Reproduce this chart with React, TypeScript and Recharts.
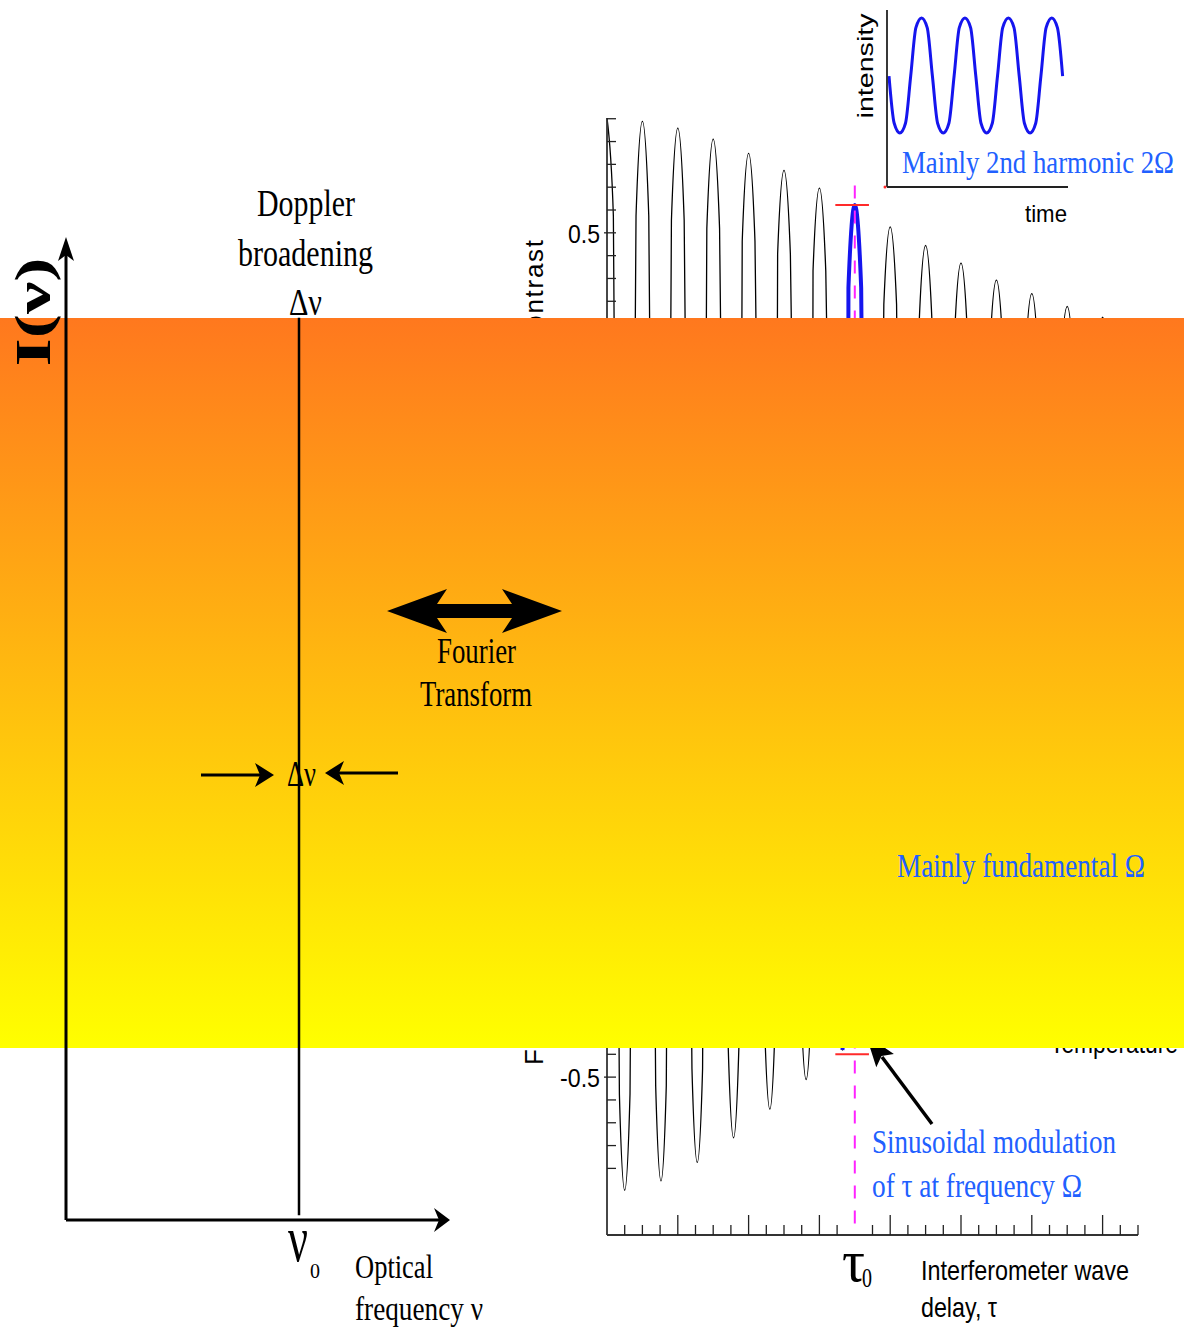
import React from 'react';
import { LineChart, Line, XAxis, YAxis, ReferenceLine } from 'recharts';

const W = 1184;
const H = 1331;
const SERIF = '"Liberation Serif", "Times New Roman", serif';
const SANS = '"Liberation Sans", Arial, sans-serif';
const BLUE_TEXT = '#2160ff';
const BLUE_LINE = '#1515ee';

// fringe contrast vs interferometer delay (delay in tick units, 0..30)
const peakDelay = [0, 2, 4, 6, 8, 10, 12, 14, 16, 18, 20, 22, 24, 26, 28, 30];
const peakContrast = [0.636, 0.632, 0.624, 0.611, 0.594, 0.574, 0.553, 0.533, 0.507, 0.485, 0.464, 0.444, 0.428, 0.413, 0.4, 0.388];
const peakShoulder = [0.52, 0.52, 0.515, 0.505, 0.49, 0.475, 0.455, 0.435, 0.415, 0.395, 0.38, 0.365, 0.35, 0.34, 0.33, 0.32];
const troughDelay = [1, 3.05, 5.1, 7.15, 9.2, 11.25, 13.3, 15, 17, 19, 21, 23, 25, 27, 29];
const troughContrast = [-0.634, -0.623, -0.601, -0.572, -0.538, -0.503, -0.468, -0.44, -0.415, -0.39, -0.37, -0.35, -0.33, -0.315, -0.3];
const troughShoulder = [-0.52, -0.51, -0.49, -0.465, -0.435, -0.405, -0.375, -0.355, -0.335, -0.315, -0.3, -0.285, -0.27, -0.26, -0.25];
const PEAK_HALF = 0.36;
const TROUGH_HALF = 0.3;

// modulation window around tau0
const tau0 = 14;
const modFrom = 13.3;
const modTo = 14.7;

const xTicks = Array.from({ length: 31 }, (_, i) => i);
const yTickStep = 1 / 37;
const yTicks = Array.from({ length: 47 }, (_, i) => 0.5 + 5 * yTickStep - i * yTickStep).filter((v) => v >= -0.61);
const yLabels: Record<string, string> = { '0.5': '0.5', '-0.5': '-0.5' };

// inset: detector intensity vs time (time in modulation periods)
const insetTime = [0, 0.12, 0.25, 0.38, 0.5, 0.62, 0.75, 0.88, 1, 1.12, 1.25, 1.38, 1.5, 1.62, 1.75, 1.88, 2, 2.12, 2.25, 2.38, 2.5, 2.62, 2.75, 2.88, 3, 3.12, 3.25, 3.38, 3.5, 3.62, 3.75, 3.88, 4];
const insetIntensity = [0.627, 0.36, 0.305, 0.36, 0.627, 0.9, 0.955, 0.9, 0.627, 0.36, 0.305, 0.36, 0.627, 0.9, 0.955, 0.9, 0.627, 0.36, 0.305, 0.36, 0.627, 0.9, 0.955, 0.9, 0.627, 0.36, 0.305, 0.36, 0.627, 0.9, 0.955, 0.9, 0.627];

// left panel: narrow spectral line at nu0 (gap where the delta-nu label sits)
const nu0 = 0.623;
const lineNu = [nu0, nu0, nu0, nu0, nu0];
const lineI: (number | null)[] = [0.005, 0.48, null, 0.446, 0.935];

type Pt = { delay: number; contrast: number; mod?: number };

const fringeData: Pt[] = (() => {
  const pts: Pt[] = [];
  const add = (x: number, v: number) => {
    if (x >= 0 && x <= 30) pts.push({ delay: x, contrast: v });
  };
  peakDelay.forEach((x, i) => {
    add(x - PEAK_HALF, peakShoulder[i]);
    add(x, peakContrast[i]);
    add(x + PEAK_HALF, peakShoulder[i]);
  });
  troughDelay.forEach((x, i) => {
    add(x - TROUGH_HALF, troughShoulder[i]);
    add(x, troughContrast[i]);
    add(x + TROUGH_HALF, troughShoulder[i]);
  });
  pts.sort((a, b) => a.delay - b.delay);
  pts.forEach((p) => {
    if (p.delay >= modFrom - 1e-6 && p.delay <= modTo + 1e-6) p.mod = p.contrast;
  });
  return pts;
})();

const insetData = insetTime.map((t, i) => ({ t, v: insetIntensity[i] }));
const lineData = lineNu.map((nu, i) => ({ nu, I: lineI[i] }));

const XTick = (props: any) => {
  const { x, y, payload } = props;
  const v = payload.value;
  if (v === 0 || v === tau0) return null;
  const len = v % 4 === 0 ? 20 : 10;
  return <line x1={x} y1={y} x2={x} y2={y - len} stroke="#222" strokeWidth={1.3} />;
};

const YTick = (props: any) => {
  const { x, y, payload } = props;
  const key = String(Math.round(payload.value * 1000) / 1000);
  const label = yLabels[key];
  return (
    <g>
      <line x1={label ? x - 3 : x} y1={y} x2={x + 9} y2={y} stroke="#222" strokeWidth={1.3} />
      {label && (
        <text x={x - 7} y={y + 10} textAnchor="end" fontFamily={SANS} fontSize={26} fill="#000"
          textLength={label.length === 3 ? 32 : 40} lengthAdjust="spacingAndGlyphs">
          {label}
        </text>
      )}
    </g>
  );
};

const T = ({ x, y, s, len, fill = '#000', font = SERIF, anchor = 'start', weight, children }: any) => (
  <text x={x} y={y} fontSize={s} fontFamily={font} fill={fill} textAnchor={anchor} fontWeight={weight}
    textLength={len} lengthAdjust="spacingAndGlyphs">
    {children}
  </text>
);

const abs: React.CSSProperties = { position: 'absolute', left: 0, top: 0 };

export default function App() {
  return (
    <div style={{ ...abs, width: W, height: H, background: '#fff', overflow: 'hidden' }}>
      {/* right panel: fringe contrast */}
      <div style={abs}>
        <LineChart width={W} height={H} data={fringeData} margin={{ top: 118, right: 46, bottom: 66, left: 547 }}>
          <XAxis type="number" dataKey="delay" domain={[0, 30]} ticks={xTicks} interval={0} height={30}
            tickSize={0} tickMargin={0} tickLine={false} axisLine={{ stroke: '#333', strokeWidth: 1.8 }} tick={<XTick />} />
          <YAxis type="number" domain={[-0.687, 0.636]} allowDataOverflow ticks={yTicks} interval={0} width={60}
            tickSize={0} tickMargin={0} tickLine={false} axisLine={{ stroke: '#333', strokeWidth: 1.8 }} tick={<YTick />} />
          <Line dataKey="contrast" type="monotone" stroke="#000" strokeWidth={1.3} dot={false} isAnimationActive={false} />
          <Line dataKey="mod" type="monotone" stroke={BLUE_LINE} strokeWidth={4} dot={false} isAnimationActive={false} />
          <ReferenceLine segment={[{ x: 12.9, y: 0.533 }, { x: 14.8, y: 0.533 }]} stroke="#ff2a2a" strokeWidth={2} />
          <ReferenceLine segment={[{ x: 12.9, y: -0.473 }, { x: 14.8, y: -0.473 }]} stroke="#ff2a2a" strokeWidth={2} />
          <ReferenceLine segment={[{ x: tau0, y: 0.556 }, { x: tau0, y: -0.687 }]} stroke="#ff22ff" strokeWidth={2} strokeDasharray="13 12" />
        </LineChart>
      </div>

      {/* inset: intensity vs time */}
      <div style={{ position: 'absolute', left: 877, top: 0 }}>
        <LineChart width={201} height={197} data={insetData} margin={{ top: 10, right: 10, bottom: 0, left: 0 }}>
          <XAxis type="number" dataKey="t" domain={[-0.046, 4.124]} allowDataOverflow height={10} tick={false} tickLine={false}
            axisLine={{ stroke: '#222', strokeWidth: 1.8 }} />
          <YAxis type="number" domain={[0, 1]} allowDataOverflow width={10} tick={false} tickLine={false}
            axisLine={{ stroke: '#222', strokeWidth: 1.8 }} />
          <Line dataKey="v" type="monotone" stroke={BLUE_LINE} strokeWidth={3} dot={false} isAnimationActive={false} />
        </LineChart>
      </div>

      {/* labels underneath the band */}
      <svg width={W} height={H} style={abs}>
        <T x={257} y={216} s={38} len={98}>Doppler</T>
        <T x={238} y={266} s={38} len={135}>broadening</T>
        <T x={289} y={315} s={38} len={33}>Δν</T>

        <g transform="translate(543,1065) rotate(-90)">
          <text x={0} y={0} fontFamily={SANS} fontSize={26} textLength={825} lengthAdjust="spacing">
            Fourier transform of line shape = interferometer fringe contrast
          </text>
        </g>
        <T x={1050} y={1053} s={27} len={128} font={SANS}>Temperature</T>

        <g transform="translate(873,66) rotate(-90)">
          <text x={0} y={0} textAnchor="middle" fontFamily={SANS} fontSize={22} textLength={105} lengthAdjust="spacingAndGlyphs">intensity</text>
        </g>
        <T x={1025} y={222} s={24} len={42} font={SANS}>time</T>
        <circle cx={885} cy={187} r={1.5} fill="#ff2a2a" />
        <T x={902} y={173} s={32} len={272} fill={BLUE_TEXT}>Mainly 2nd harmonic 2Ω</T>

        <T x={872} y={1153} s={33} len={244} fill={BLUE_TEXT}>Sinusoidal modulation</T>
        <T x={872} y={1197} s={33} len={210} fill={BLUE_TEXT}>of τ at frequency Ω</T>
        <line x1={932} y1={1124} x2={882} y2={1057} stroke="#000" strokeWidth={3.5} />
        <polygon points="866,1035 893.9,1054.1 881.5,1055.9 876.3,1067.3" fill="#000" />

        <T x={842} y={1281} s={60} len={23}>τ</T>
        <T x={862} y={1287} s={28} len={10}>0</T>
        <T x={921} y={1280} s={28} len={208} font={SANS}>Interferometer wave</T>
        <T x={921} y={1317} s={28} len={76} font={SANS}>delay, τ</T>

        <T x={288} y={1261} s={66} len={20}>ν</T>
        <T x={310} y={1278} s={22} len={10}>0</T>
        <T x={355} y={1278} s={33} len={78}>Optical</T>
        <T x={355} y={1320} s={33} len={128}>frequency ν</T>
      </svg>

      {/* band */}
      <div style={{ position: 'absolute', left: 0, top: 318, width: W, height: 730, background: 'linear-gradient(to bottom, #ff781e, #ffff00)' }} />

      {/* left panel: spectrum */}
      <div style={abs}>
        <LineChart width={W} height={H} data={lineData} margin={{ top: 255, right: 744, bottom: 81, left: 6 }}>
          <XAxis type="number" dataKey="nu" domain={[0, 1]} allowDataOverflow height={30} tick={false} tickLine={false}
            axisLine={{ stroke: '#000', strokeWidth: 3 }} />
          <YAxis type="number" domain={[0, 1]} allowDataOverflow width={60} tick={false} tickLine={false}
            axisLine={{ stroke: '#000', strokeWidth: 3 }} />
          <Line dataKey="I" type="linear" stroke="#000" strokeWidth={2.5} dot={false} isAnimationActive={false} />
        </LineChart>
      </div>

      {/* labels above the band */}
      <svg width={W} height={H} style={abs}>
        <polygon points="66,237 58,261 66,255 74,261" fill="#000" />
        <polygon points="450,1220 434,1208 439,1220 434,1232" fill="#000" />
        <g transform="translate(50,312) rotate(-90)">
          <text x={0} y={0} textAnchor="middle" fontFamily={SERIF} fontSize={50} fontWeight="bold" textLength={109} lengthAdjust="spacingAndGlyphs">I(ν)</text>
        </g>

        <polygon points="387,611 447,589 437,604 512,604 502,589 562,611 502,633 512,618 437,618 447,633" fill="#000" />
        <T x={437} y={663} s={36} len={79}>Fourier</T>
        <T x={420} y={706} s={36} len={112}>Transform</T>

        <line x1={201} y1={775} x2={262} y2={775} stroke="#000" strokeWidth={3} />
        <polygon points="274,775 255,763 260,775 255,787" fill="#000" />
        <line x1={398} y1={773} x2={338} y2={773} stroke="#000" strokeWidth={3} />
        <polygon points="325,773 344,761 339,773 344,785" fill="#000" />
        <T x={287} y={786} s={36} len={29}>Δν</T>

        <T x={897} y={877} s={34} len={248} fill={BLUE_TEXT}>Mainly fundamental Ω</T>
      </svg>
    </div>
  );
}
